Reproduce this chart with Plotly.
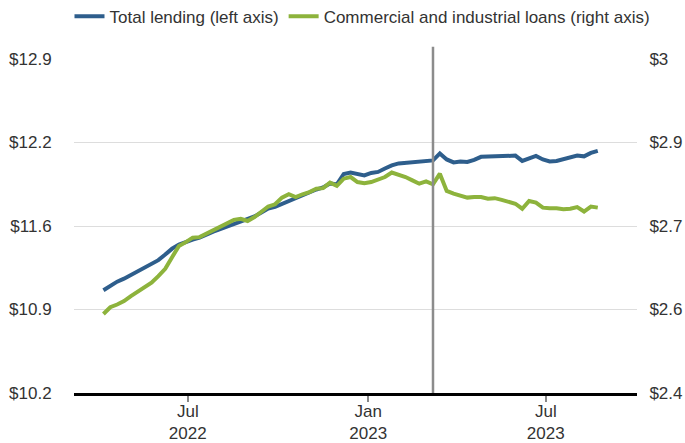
import pandas as pd
import plotly.graph_objects as go

# Weekly (Wednesday) observations, trillions of dollars
dates = pd.date_range("2022-04-06", "2023-08-23", freq="7D")

total_lending = [
    11.031, 11.068, 11.100, 11.124, 11.153, 11.185, 11.209, 11.238, 11.274, 11.319,
    11.367, 11.400, 11.424, 11.440, 11.456, 11.485, 11.505, 11.525, 11.546, 11.570,
    11.590, 11.614, 11.627, 11.659, 11.691, 11.704, 11.728, 11.756, 11.781, 11.801,
    11.825, 11.845, 11.862, 11.894, 11.886, 11.971, 11.983, 11.967, 11.959, 11.979,
    11.987, 12.015, 12.040, 12.056, 12.060, 12.068, 12.076, 12.079, 12.080, 12.137,
    12.088, 12.064, 12.072, 12.068, 12.084, 12.109, 12.111, 12.111, 12.119, 12.119,
    12.119, 12.076, 12.096, 12.117, 12.088, 12.072, 12.076, 12.092, 12.107, 12.119,
    12.113, 12.141, 12.157,
]

ci_loans = [
    2.542, 2.554, 2.559, 2.565, 2.574, 2.582, 2.589, 2.598, 2.610, 2.623,
    2.644, 2.664, 2.671, 2.679, 2.680, 2.686, 2.692, 2.699, 2.704, 2.711,
    2.713, 2.709, 2.716, 2.726, 2.735, 2.739, 2.751, 2.757, 2.752, 2.757,
    2.761, 2.767, 2.768, 2.778, 2.772, 2.785, 2.788, 2.779, 2.777, 2.779,
    2.783, 2.788, 2.796, 2.792, 2.788, 2.782, 2.776, 2.780, 2.775, 2.794,
    2.763, 2.758, 2.755, 2.751, 2.752, 2.752, 2.749, 2.750, 2.747, 2.743,
    2.740, 2.731, 2.745, 2.742, 2.733, 2.732, 2.732, 2.730, 2.731, 2.734,
    2.726, 2.735, 2.733,
]

left_ticks = [10.2, 10.875, 11.55, 12.225, 12.9]
left_labels = ["$10.2", "$10.9", "$11.6", "$12.2", "$12.9"]
right_ticks = [2.4, 2.55, 2.7, 2.85, 3.0]
right_labels = ["$2.4", "$2.6", "$2.7", "$2.9", "$3"]
x_ticks = ["2022-07-01", "2023-01-01", "2023-07-01"]
x_labels = ["Jul<br>2022", "Jan<br>2023", "Jul<br>2023"]
event_date = "2023-03-08"

BLUE = "#2E5E8C"
GREEN = "#8DB33C"
TEXT = "#333333"
FONT = "Liberation Sans, Arial, sans-serif"

fig = go.Figure()
fig.add_trace(go.Scatter(
    x=dates, y=total_lending, name="Total lending (left axis)",
    mode="lines", line=dict(color=BLUE, width=4), yaxis="y",
))
fig.add_trace(go.Scatter(
    x=dates, y=ci_loans, name="Commercial and industrial loans (right axis)",
    mode="lines", line=dict(color=GREEN, width=4), yaxis="y2",
))

fig.add_shape(
    type="line", xref="x", yref="paper",
    x0=event_date, x1=event_date, y0=0, y1=1.037,
    line=dict(color="#8C8C8C", width=2.5), layer="above",
)

fig.update_layout(
    width=685, height=443,
    margin=dict(l=74, r=47.5, t=59.3, b=50.3, autoexpand=False),
    paper_bgcolor="white", plot_bgcolor="white",
    font=dict(family=FONT, size=16, color=TEXT),
    showlegend=True,
    legend=dict(
        orientation="h", xref="paper", yref="paper",
        x=-0.008, xanchor="left", y=1.127, yanchor="middle",
        font=dict(size=17, color=TEXT), itemwidth=30, tracegroupgap=0,
        bgcolor="rgba(0,0,0,0)",
    ),
    xaxis=dict(
        type="date", range=["2022-03-07", "2023-10-02"], automargin=False,
        tickvals=x_ticks, ticktext=x_labels,
        ticks="outside", ticklen=6, tickwidth=1.5, tickcolor="#888888",
        showline=True, linecolor="black", linewidth=2.5,
        showgrid=False, zeroline=False, ticklabelstandoff=-5,
        tickfont=dict(size=17, color=TEXT),
    ),
    yaxis=dict(
        range=[10.2, 12.9], tickvals=left_ticks, ticktext=left_labels,
        automargin=False,
        showgrid=True, gridcolor="#DDDDDD", gridwidth=1,
        zeroline=False, showline=False,
        ticks="outside", ticklen=18, tickcolor="rgba(0,0,0,0)",
        tickfont=dict(size=17, color=TEXT),
    ),
    yaxis2=dict(
        range=[2.4, 3.0], tickvals=right_ticks, ticktext=right_labels,
        automargin=False,
        overlaying="y", side="right", showgrid=False, zeroline=False,
        ticks="outside", ticklen=8, tickcolor="rgba(0,0,0,0)",
        tickfont=dict(size=17, color=TEXT),
    ),
)

fig.write_html("out.html")
